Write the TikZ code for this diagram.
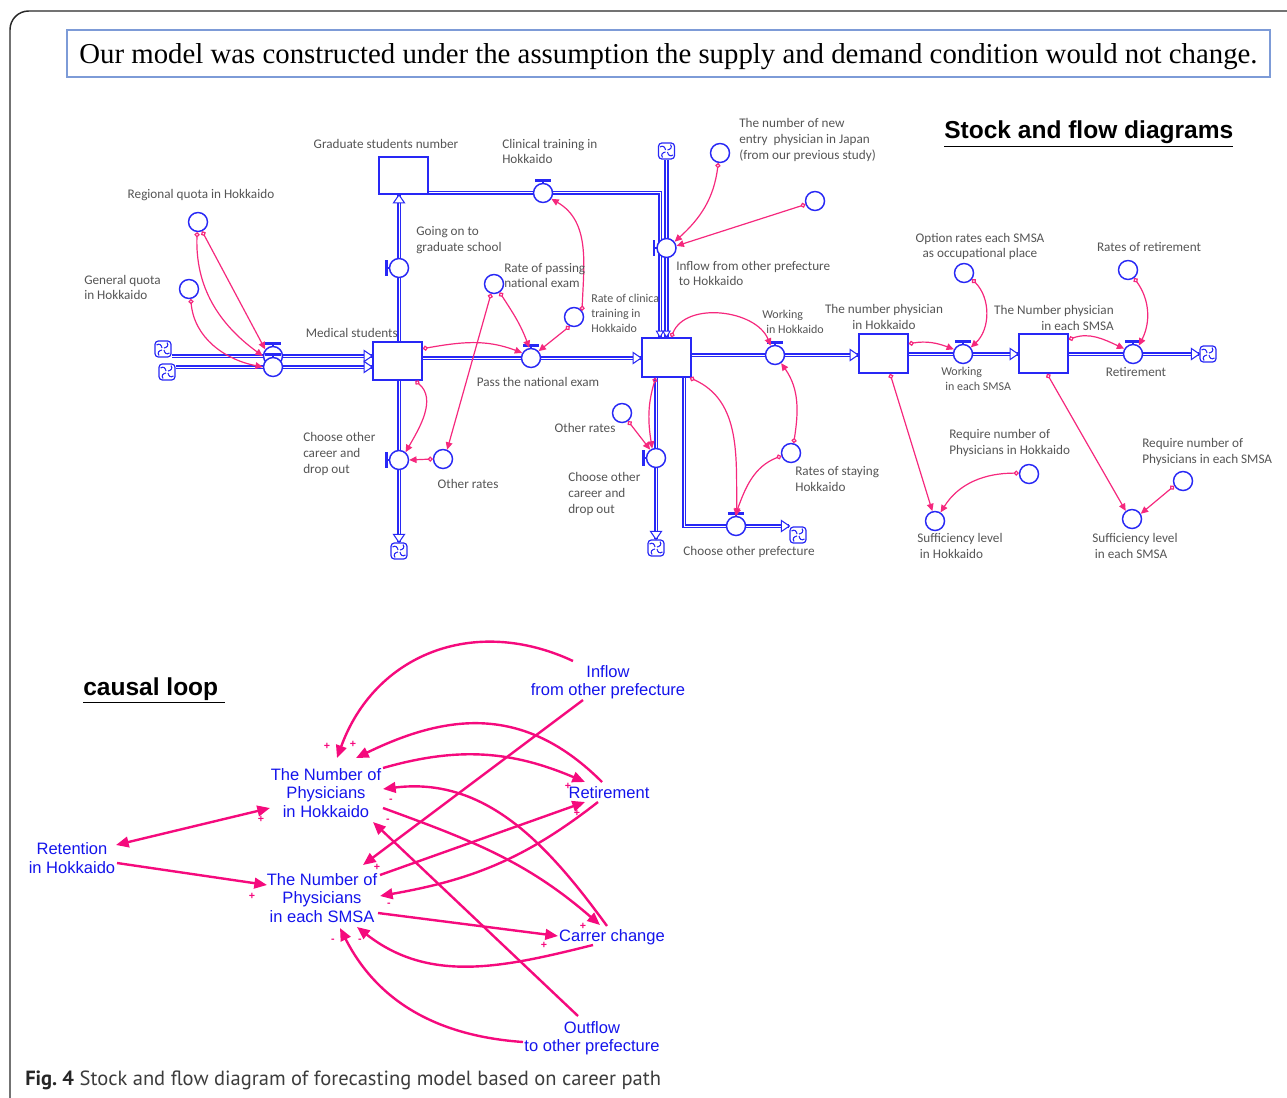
\documentclass[tikz,border=0pt]{standalone}
\usepackage{fontspec}
\usetikzlibrary{arrows.meta,calc}
\newfontfamily\calib{Carlito}
\newfontfamily\arialf{Liberation Sans}
\newfontfamily\timesf{Liberation Serif}
\newfontfamily\capf{PT Sans}
\definecolor{sfdblue}{RGB}{40,40,245}
\definecolor{lpink}{RGB}{245,40,125}
\definecolor{clpink}{RGB}{245,10,125}
\definecolor{clblue}{RGB}{20,20,235}
\definecolor{sfdgray}{RGB}{85,85,85}
\definecolor{bannerblue}{RGB}{125,155,215}
\definecolor{framegray}{RGB}{40,40,40}
\definecolor{capgray}{RGB}{60,60,60}
\pgfdeclarelayer{bg}
\pgfsetlayers{bg,main}
\tikzset{
  stock/.style={draw=sfdblue, line width=1.3pt, fill=white, minimum width=36.75pt, minimum height=28.5pt, inner sep=0pt},
  aux/.style={circle, draw=sfdblue, line width=1.1pt, fill=white, minimum size=14.25pt, inner sep=0pt},
  cloud/.style={draw=sfdblue, line width=0.9pt, fill=white, rounded corners=2.5pt, minimum size=12pt, inner sep=0pt,
     path picture={\begin{scope}[shift={(path picture bounding box.center)}, sfdblue, line width=0.8pt, sharp corners]
        \draw (1,-1) .. controls (4,-1.5) and (6,-3.5) .. (4,-6.5);
        \draw (1,1) .. controls (1.5,4) and (3.5,6) .. (6.5,4);
        \draw (-1,1) .. controls (-4,1.5) and (-6,3.5) .. (-4,6.5);
        \draw (-1,-1) .. controls (-1.5,-4) and (-3.5,-6) .. (-6.5,-4);
        \end{scope}}},
  pipe/.style={draw=sfdblue, double=white, line width=1.2pt, double distance=0.75pt},
  link/.style={draw=lpink, line width=0.9pt, {Circle[open, length=3.8pt, width=3.8pt]}-{Triangle[length=5.5pt, width=5pt]}},
  lbl/.style={text=sfdgray, font=\calib\fontsize{9.9}{11.8}\selectfont, inner sep=0pt, align=left},
  lbls/.style={text=sfdgray, font=\calib\fontsize{9}{11}\selectfont, inner sep=0pt, align=left},
  cl/.style={text=clblue, font=\arialf\fontsize{12.4}{13.9}\selectfont, align=center, inner sep=0pt},
  clarrow/.style={draw=clpink, line width=1.8pt, -{Triangle[length=9.5pt, width=8pt]}},
  sign/.style={text=clpink, font=\arialf\bfseries\fontsize{8}{8}\selectfont, inner sep=0pt},
  title/.style={font=\arialf\bfseries\fontsize{18.4}{20}\selectfont, inner sep=0pt, anchor=west},
  phead/.pic={\draw[sfdblue, fill=white, line width=0.8pt] (0,0) -- (-8,-5.5) -- (-8,5.5) -- cycle;},
  pheads/.pic={\draw[sfdblue, fill=white, line width=0.7pt] (0,0) -- (-6,-3.6) -- (-6,3.6) -- cycle;},
  vtop/.pic={\draw[sfdblue, line width=1pt] (0,-9) -- (0,-12.5); \draw[sfdblue, line width=1.7pt] (-8,-12.5) -- (8,-12.5);},
  vleft/.pic={\draw[sfdblue, line width=1pt] (-9,0) -- (-12.5,0); \draw[sfdblue, line width=1.7pt] (-12.5,-8) -- (-12.5,8);}
}
\begin{document}
\begin{tikzpicture}[x=0.75pt, y=-0.75pt]
\useasboundingbox (0,0) rectangle (1287,1098);
% frame
\draw[framegray, line width=1.1pt, rounded corners=14pt] (10,1098) -- (10,11) -- (1287,11);
% banner
\node[draw=bannerblue, line width=1.2pt, minimum width=902.25pt, minimum height=35.25pt, inner sep=0pt] (banner) at (668.5,53.5) {};
\node[inner sep=0pt, font=\timesf\fontsize{21.6}{24}\selectfont] (bannertext) at (668.5,56.5)
  {Our model was constructed under the assumption the supply and demand condition would not change.};
\node[title] (sfdtitle) at (944,134) {\underline{Stock and flow diagrams}};

% ---------- stocks ----------
\node[stock, minimum height=27.75pt] (grad) at (403.5,175.5) {};
\node[stock] (med) at (397.5,361) {};
\node[stock, minimum height=29.25pt] (cen) at (666.5,357.5) {};
\node[stock, minimum height=29.25pt] (hok) at (883.5,353.5) {};
\node[stock, minimum height=29.25pt] (smsa) at (1043.5,353.5) {};
% ---------- clouds ----------
\node[cloud] (c1) at (163,349) {};
\node[cloud] (c2) at (167,372) {};
\node[cloud] (c3) at (666.5,151) {};
\node[cloud] (c4) at (1208,354) {};
\node[cloud] (c5) at (399,551) {};
\node[cloud] (c6) at (656,548) {};
\node[cloud] (c7) at (798,535) {};
% ---------- valves ----------
\pic at (273,356) {vtop};   \node[aux] (v1) at (273,356) {};
\pic at (273,367) {vtop};   \node[aux] (v2) at (273,367) {};
\pic at (399,268) {vleft};  \node[aux] (v3) at (399,268) {};
\pic at (543,193) {vtop};   \node[aux] (v4) at (543,193) {};
\pic at (666.5,248) {vleft};\node[aux] (v5) at (666.5,248) {};
\pic at (531,358) {vtop};   \node[aux] (v6) at (531,358) {};
\pic at (775,355) {vtop};   \node[aux] (v7) at (775,355) {};
\pic at (963,354) {vtop};   \node[aux] (v8) at (963,354) {};
\pic at (1133,354) {vtop};  \node[aux] (v9) at (1133,354) {};
\pic at (399,460) {vleft};  \node[aux] (v10) at (399,460) {};
\pic at (656,458) {vleft};  \node[aux] (v11) at (656,458) {};
\pic at (736,526) {vtop};   \node[aux] (v12) at (736,526) {};
% ---------- auxiliaries ----------
\node[aux] (reg) at (198,222) {};
\node[aux] (gen) at (189,289) {};
\node[aux] (pass) at (494,284) {};
\node[aux] (rclin) at (574,317) {};
\node[aux] (newent) at (720,153) {};
\node[aux] (unl) at (815,201) {};
\node[aux] (oth1) at (443,459) {};
\node[aux] (oth2) at (622,413) {};
\node[aux] (stay) at (791,453) {};
\node[aux] (opt) at (964,273) {};
\node[aux] (rret) at (1128,270) {};
\node[aux] (reqH) at (1029,474) {};
\node[aux] (sufH) at (935,521) {};
\node[aux] (reqS) at (1183,481) {};
\node[aux] (sufS) at (1132,519) {};

% ---------- pipes ----------
\coordinate (cx) at ($(cen.north)+(-6.5,0)$);
\coordinate (cy) at ($(cen.south)+(17.5,0)$);
\begin{pgfonlayer}{bg}
\draw[pipe] (c1.east |- v1) -- (med.west |- v1);
\draw[pipe] (c2.east |- v2) -- (med.west |- v2);
\draw[pipe] (med.north -| v3) -- (grad.south -| v3);
\draw[pipe] (grad.east |- v4) -- (cx |- v4) -- (cx);
\draw[pipe] (c3.south) -- (cen.north);
\draw[pipe] (med.east |- v6) -- (cen.west |- v6);
\draw[pipe] (cen.east |- v7) -- (hok.west |- v7);
\draw[pipe] (hok.east |- v8) -- (smsa.west |- v8);
\draw[pipe] (smsa.east |- v9) -- (c4.west |- v9);
\draw[pipe] (med.south -| v10) -- (c5.north -| v10);
\draw[pipe] (cen.south -| v11) -- (c6.north -| v11);
\draw[pipe] (cy) -- (cy |- v12) -- (c7.west |- v12);
\end{pgfonlayer}
\pic at (med.west |- v1) {phead};
\pic at (med.west |- v2) {phead};
\pic[rotate=90] at (grad.south -| v3) {phead};
\pic[rotate=-90] at (cx) {pheads};
\pic[rotate=-90] at (cen.north) {pheads};
\pic at (cen.west |- v6) {phead};
\pic at (hok.west |- v7) {phead};
\pic at (smsa.west |- v8) {phead};
\pic at (c4.west |- v9) {phead};
\pic[rotate=-90] at (c5.north -| v10) {phead};
\pic[rotate=-90] at (c6.north -| v11) {phead};
\pic at (c7.west |- v12) {phead};

% ---------- links ----------
\draw[link] (reg.-66) -- (v1.140);
\draw[link] (reg.-95) to[out=-92, in=144] (v1.180);
\draw[link] (gen.-80) to[out=-85, in=169] (v2.180);
\draw[link] (med.26) to[out=10, in=159] (v6.150);
\draw[link] (med.-48) to[out=-40, in=60] (v10.50);
\draw[link] (pass.-107) -- (oth1.66);
\draw[link] (pass.-56) to[out=-57, in=110] (v6.100);
\draw[link] (rclin.-115) -- (v6.42);
\draw[link] (rclin.38) to[out=88, in=-30] (v4.-35);
\draw[link] (oth1.180) -- (v10.0);
\draw[link] (newent.-100) to[out=-97, in=42] (v5.38);
\draw[link] (unl.-160) -- (v5.12);
\draw[link] (cen.77) to[out=68, in=112] (v7.115);
\draw[link] (cen.-118) to[out=-107, in=99] (v11.112);
\draw[link] (oth2.-53) -- (v11.125);
\draw[link] (cen.-41) to[out=-24, in=91] (v12.85);
\draw[link] (stay.75) to[out=81, in=-55] (v7.-53);
\draw[link] (stay.-163) to[out=201, in=70] (v12.95);
\draw[link] (hok.21) to[out=10, in=159] (v8.153);
\draw[link] (opt.-38) to[out=-45, in=43] (v8.40);
\draw[link] (smsa.29) to[out=20, in=155] (v9.149);
\draw[link] (rret.-53) to[out=-54, in=63] (v9.55);
\draw[link] (hok.-72) -- (sufH.105);
\draw[link] (reqH.175) to[out=180, in=58] (sufH.57);
\draw[link] (smsa.-80) -- (sufS.128);
\draw[link] (reqS.-151) -- (sufS.31);

% ---------- SFD labels ----------
\node[lbl, anchor=center] (tgrad) at (386,144) {Graduate students number};
\node[lbl, anchor=center] (treg) at (201,195) {Regional quota in Hokkaido};
\node[lbl, anchor=west] (tgen) at (84,287.5) {General quota\\in Hokkaido};
\node[lbl, anchor=west] (tclin) at (502,151.5) {Clinical training in\\Hokkaido};
\node[lbl, anchor=west] (tgo) at (416,240) {Going on to\\graduate school};
\node[lbl, anchor=west] (tpass) at (504,275.5) {Rate of passing\\national exam};
\node[lbl, anchor=east] (tmed) at (398,333) {Medical students};
\node[lbls, anchor=west] (trclin) at (591,313.5) {Rate of clinica\\training in\\Hokkaido};
\node[lbl, anchor=center] (tpex) at (538,382) {Pass the national exam};
\node[lbl, anchor=west] (tnew) at (739,140) {The number of new\\entry\ \ physician in Japan\\(from our previous study)};
\node[lbl, anchor=west] (tinf) at (676,273.5) {Inflow from other prefecture\\\hspace*{2pt}to Hokkaido};
\node[lbls, anchor=west] (twh) at (762,322) {Working\\\hspace*{3pt}in Hokkaido};
\node[lbl, anchor=center, align=center] (thok) at (884,317) {The number physician\\in Hokkaido};
\node[lbl, anchor=east, align=right] (tsmsa) at (1114,318) {The Number physician\\in each SMSA};
\node[lbl, anchor=center, align=center] (topt) at (980,246.5) {Option rates each SMSA\\as occupational place};
\node[lbl, anchor=center] (trret) at (1149,247) {Rates of retirement};
\node[lbls, anchor=west] (tws) at (941,379) {Working\\\hspace*{3pt}in each SMSA};
\node[lbl, anchor=center] (tret) at (1136,372) {Retirement};
\node[lbl, anchor=west] (tch1) at (303,454) {Choose other\\career and\\drop out};
\node[lbl, anchor=center] (toth1) at (468,484) {Other rates};
\node[lbl, anchor=center] (toth2) at (585,428) {Other rates};
\node[lbl, anchor=west] (tch2) at (568,494) {Choose other\\career and\\drop out};
\node[lbl, anchor=west] (tstay) at (795,479) {Rates of staying\\Hokkaido};
\node[lbl, anchor=center] (tpref) at (749,552) {Choose other prefecture};
\node[lbl, anchor=west] (treqH) at (949,443) {Require number of\\Physicians in Hokkaido};
\node[lbl, anchor=west] (tsufH) at (917,546) {Sufficiency level\\\hspace*{2pt}in Hokkaido};
\node[lbl, anchor=west] (treqS) at (1142,452) {Require number of\\Physicians in each SMSA};
\node[lbl, anchor=west] (tsufS) at (1092,546) {Sufficiency level\\\hspace*{2pt}in each SMSA};

% ---------- causal loop ----------
\node[title] (cltitle) at (83,690) {\underline{causal loop\ }};
\node[cl] (nph) at (326,793) {The Number of\\Physicians\\in Hokkaido};
\node[cl] (nps) at (322,898) {The Number of\\Physicians\\in each SMSA};
\node[cl] (ret) at (72,858) {Retention\\in Hokkaido};
\node[cl] (inf) at (608,682) {Inflow\\from other prefecture};
\node[cl] (rtm) at (609,793) {Retirement};
\node[cl] (car) at (612,937) {Carrer change};
\node[cl] (outf) at (592,1038) {Outflow\\to other prefecture};

\draw[clarrow] ($(inf)+(-35,-21)$) to[out=155, in=70, looseness=1.1] ($(nph)+(11,-35)$);
\draw[clarrow] ($(inf)+(-25,18)$) -- ($(nps)+(41,-33)$);
\draw[clarrow] ($(rtm)+(-7,-11)$) to[out=135, in=26, looseness=1.1] ($(nph)+(30,-35)$);
\draw[clarrow] ($(nph)+(57,-25)$) to[out=16, in=157] ($(rtm)+(-24,-11)$);
\draw[clarrow] ($(nps)+(58,-23)$) -- ($(rtm)+(-24,9)$);
\draw[clarrow] ($(rtm)+(-11,9)$) to[out=218, in=10] ($(nps)+(58,-2)$);
\draw[clarrow] ($(car)+(-5,-11)$) to[out=126, in=7] ($(nph)+(57,-4)$);
\draw[clarrow] ($(nph)+(57,15)$) to[out=-20, in=139] ($(car)+(-12,-12)$);
\draw[clarrow] ($(outf)+(-14,-22)$) -- ($(nph)+(47,29)$);
\draw[clarrow] ($(nps)+(56,15)$) -- ($(car)+(-54,-1)$);
\draw[clarrow] ($(car)+(-19,8)$) to[out=194, in=-38] ($(nps)+(35,29)$);
\draw[clarrow] ($(outf)+(-69,4)$) to[out=176, in=-63] ($(nps)+(18,30)$);
\draw[clarrow, {Triangle[length=9.5pt, width=8pt]}-{Triangle[length=9.5pt, width=8pt]}] ($(nph)+(-56,15)$) -- ($(ret)+(44,-13)$);
\draw[clarrow] ($(ret)+(45,5)$) -- ($(nps)+(-55,-13)$);

\node[sign] (s1) at (327,746) {+};
\node[sign] (s2) at (353,744) {+};
\node[sign] (s3) at (391,801) {-};
\node[sign] (s4) at (388,821) {-};
\node[sign] (s5) at (261,819) {+};
\node[sign] (s6) at (377,867) {+};
\node[sign] (s7) at (389,905) {-};
\node[sign] (s8) at (252,896) {+};
\node[sign] (s9) at (333,941) {-};
\node[sign] (s10) at (360,941) {-};
\node[sign] (s11) at (568,786) {+};
\node[sign] (s12) at (577,813) {+};
\node[sign] (s13) at (583,926) {+};
\node[sign] (s14) at (544,945) {+};

% caption
\node[anchor=west, inner sep=0pt, font=\capf\fontsize{15.4}{17}\selectfont, text=capgray] (cap) at (25,1080)
  {{\color{black!85}\bfseries Fig.~4} Stock and flow diagram of forecasting model based on career path};
\end{tikzpicture}
\end{document}
